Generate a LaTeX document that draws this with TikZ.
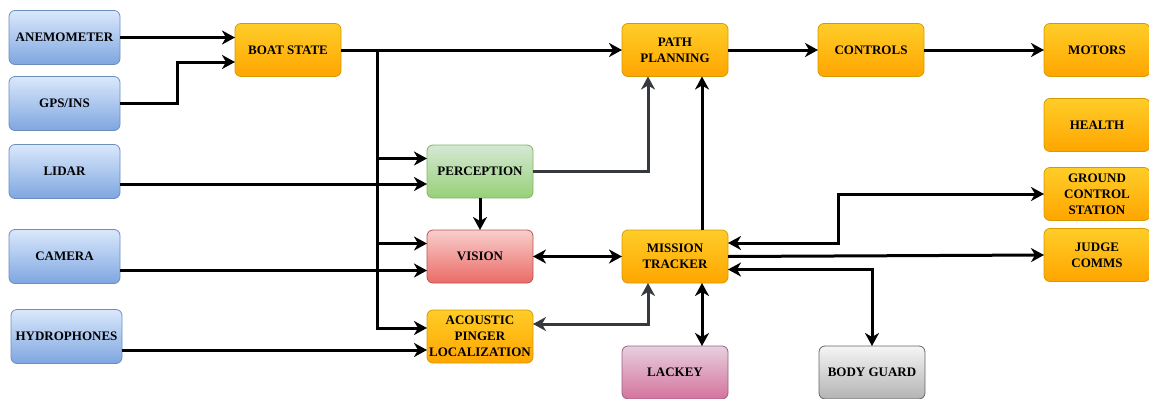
\documentclass[tikz,border=0pt]{standalone}
\usepackage{fontspec}
\setmainfont{Liberation Serif}
\usetikzlibrary{arrows.meta}
\usetikzlibrary{positioning}
\definecolor{sensortop}{HTML}{DAE8FC}
\definecolor{sensorbot}{HTML}{7EA6E0}
\definecolor{sensorline}{HTML}{6C8EBF}
\definecolor{moduletop}{HTML}{FFCD28}
\definecolor{modulebot}{HTML}{FFA500}
\definecolor{moduleline}{HTML}{D79B00}
\definecolor{greentop}{HTML}{D5E8D4}
\definecolor{greenbot}{HTML}{97D077}
\definecolor{greenline}{HTML}{82B366}
\definecolor{redtop}{HTML}{F8CECC}
\definecolor{redbot}{HTML}{EA6B66}
\definecolor{redline}{HTML}{B85450}
\definecolor{pinktop}{HTML}{E6D0DE}
\definecolor{pinkbot}{HTML}{D5739D}
\definecolor{pinkline}{HTML}{996185}
\definecolor{greytop}{HTML}{F5F5F5}
\definecolor{greybot}{HTML}{B3B3B3}
\definecolor{greyline}{HTML}{666666}
\definecolor{wiregrey}{HTML}{36393D}
\tikzset {
  wire/.style = {
    draw = black,
    line width = 3pt
  },
  % one way arrow
  arr/.style = {
    wire,
    ->
  },
  % arrow at both ends
  darr/.style = {
    wire,
    <->
  },
  % grey variants
  garr/.style = {
    arr,
    draw = wiregrey
  },
  gdarr/.style = {
    darr,
    draw = wiregrey
  },
  >={Stealth[length = 13pt, width = 14pt, inset = 4pt]}
}
\tikzset {
  block/.style = {
    rectangle,
    rounded corners = 6pt,
    line width = 0.8pt,
    minimum width = 106pt,
    minimum height = 53pt,
    inner sep = 0.5pt,
    outer sep = 0pt,
    align = center,
    font = \fontsize{13}{16}\selectfont\bfseries
  },
  % sensor input
  sensor/.style = {
    block,
    minimum width = 111pt,
    minimum height = 54pt,
    draw = sensorline,
    top color = sensortop,
    bottom color = sensorbot
  },
  % software module
  module/.style = {
    block,
    draw = moduleline,
    top color = moduletop,
    bottom color = modulebot
  },
  percept/.style = {
    block,
    draw = greenline,
    top color = greentop,
    bottom color = greenbot
  },
  visionbox/.style = {
    block,
    draw = redline,
    top color = redtop,
    bottom color = redbot
  },
  lackeybox/.style = {
    block,
    draw = pinkline,
    top color = pinktop,
    bottom color = pinkbot
  },
  guardbox/.style = {
    block,
    draw = greyline,
    top color = greytop,
    bottom color = greybot
  },
  node distance = 12pt
}
\begin{document}
\begin{tikzpicture}[x = 1pt, y = -1pt]
    \useasboundingbox (0,0) rectangle (1149,399);

    \node[sensor] (anemometer) at (64.5,37.5) {ANEMOMETER};
    \node[sensor] (gps) [below=12pt of anemometer] {GPS/INS};
    \node[sensor] (lidar) [below=14pt of gps] {LIDAR};
    \node[sensor] (camera) [below=31pt of lidar] {CAMERA};
    \node[sensor] (hydrophones) [below=26pt of camera, xshift=2pt] {HYDROPHONES};

    \node[module] (boatstate) at (288,50) {BOAT STATE};
    \node[module] (pathplanning) [right=281pt of boatstate] {PATH\\PLANNING};
    \node[module] (controls) [right=90pt of pathplanning] {CONTROLS};
    \node[module] (motors) [right=120pt of controls] {MOTORS};
    \node[module] (health) [below=22pt of motors] {HEALTH};
    \node[module] (ground) [below=16pt of health] {GROUND\\CONTROL\\STATION};
    \node[module] (judge) [below=8pt of ground] {JUDGE\\COMMS};

    \node[percept] (perception) [right=307pt of lidar] {PERCEPTION};
    \node[visionbox] (vision) [right=307pt of camera] {VISION};
    \node[module] (acoustic) [right=305pt of hydrophones] {ACOUSTIC\\PINGER\\LOCALIZATION};
    \node[module] (mission) [right=89pt of vision] {MISSION\\TRACKER};
    \node[lackeybox] (lackey) [below=63pt of mission] {LACKEY};
    \node[guardbox] (bodyguard) [right=91pt of lackey] {BODY GUARD};

    \draw[arr] (anemometer.east) -- (anemometer.east -| boatstate.west);
    \draw[arr] (gps.east) -- ++(57,0) |- ([yshift=-12pt]boatstate.west);

    \draw[arr] (boatstate.east) -- (pathplanning.west);
    \coordinate (bus) at ([xshift=36pt]boatstate.east);
    \draw[arr] (bus) |- ([yshift=8.5pt]acoustic.west);
    \draw[arr] ([yshift=13pt]perception.west -| bus) -- ([yshift=13pt]perception.west);
    \draw[arr] ([yshift=13pt]vision.west -| bus) -- ([yshift=13pt]vision.west);

    \draw[arr] ([yshift=-12.5pt]perception.west -| lidar.east)
      -- ([yshift=-12.5pt]perception.west);
    \draw[arr] ([yshift=-14pt]vision.west -| camera.east)
      -- ([yshift=-14pt]vision.west);
    \draw[arr] ([yshift=-13.5pt]acoustic.west -| hydrophones.east)
      -- ([yshift=-13.5pt]acoustic.west);

    \draw[arr] (perception) -- (vision);
    \draw[garr] (perception.east) -| ([xshift=-27pt]pathplanning.south);
    \draw[arr] ([xshift=27pt]mission.north) -- ([xshift=27pt]pathplanning.south);

    \draw[darr] (vision.east) -- (mission.west);
    \draw[gdarr] ([yshift=12.5pt]acoustic.east) -| ([xshift=-27pt]mission.south);
    \draw[darr] ([xshift=27pt]mission.south) -- ([xshift=27pt]lackey.north);

    \draw[darr] ([yshift=13.5pt]mission.east) -- ++(110,0) |- (ground.west);
    \draw[arr] (mission.east) -- (judge.west);
    \draw[darr] ([yshift=-13pt]mission.east) -| (bodyguard.north);

    \draw[arr] (pathplanning) -- (controls);
    \draw[arr] (controls) -- (motors);
  \end{tikzpicture}
\end{document}
